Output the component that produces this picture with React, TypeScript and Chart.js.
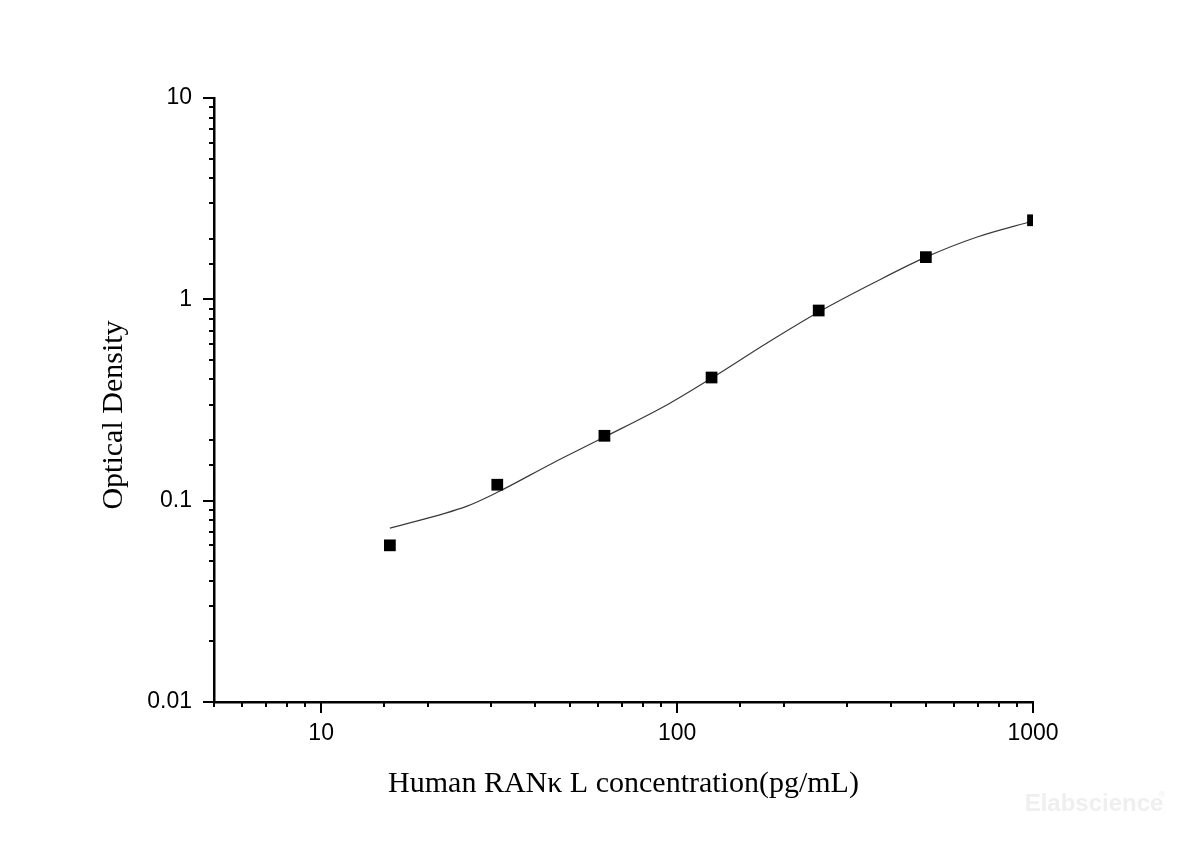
import React, { useEffect, useRef } from 'react';
import { Chart, registerables } from 'chart.js';

Chart.register(...registerables);

// standard points (pg/mL -> OD)
const concentrations = [15.6, 31.25, 62.5, 125, 250, 500, 1000];
const opticalDensity = [0.06, 0.12, 0.21, 0.409, 0.88, 1.62, 2.47];

// fitted curve
const fitConcentrations = [15.6, 25.7, 31.25, 44.8, 62.5, 95.5, 125, 179, 250, 356, 500, 697, 1000];
const fitDensity = [0.073, 0.094, 0.11, 0.154, 0.207, 0.305, 0.406, 0.607, 0.865, 1.205, 1.62, 2.04, 2.45];

const xLabelValues = [10, 100, 1000];
const yLabelValues = [0.01, 0.1, 1, 10];

const TICK_FONT = '"Liberation Sans", Arial, sans-serif';
const TITLE_FONT = '"Liberation Serif", "Times New Roman", serif';

const isLabelled = (v: number, list: number[]) =>
  list.some(l => Math.abs(Math.log10(v) - Math.log10(l)) < 1e-6);

const tickMarks = {
  id: 'tickMarks',
  afterDraw(chart: any) {
    const { ctx, chartArea, scales } = chart;
    ctx.save();
    ctx.strokeStyle = '#000';
    ctx.lineWidth = 2;
    scales.x.ticks.forEach((t: any) => {
      const px = Math.round(scales.x.getPixelForValue(t.value));
      const len = isLabelled(t.value, xLabelValues) ? 11 : 5;
      ctx.beginPath();
      ctx.moveTo(px, chartArea.bottom);
      ctx.lineTo(px, chartArea.bottom + len);
      ctx.stroke();
    });
    scales.y.ticks.forEach((t: any) => {
      const py = Math.round(scales.y.getPixelForValue(t.value));
      const len = isLabelled(t.value, yLabelValues) ? 11 : 5;
      ctx.beginPath();
      ctx.moveTo(chartArea.left - len, py);
      ctx.lineTo(chartArea.left, py);
      ctx.stroke();
    });

    // faint watermark
    ctx.fillStyle = '#efefef';
    ctx.font = 'bold 24px ' + TICK_FONT;
    ctx.textAlign = 'center';
    ctx.textBaseline = 'middle';
    ctx.fillText('Elabscience', chart.width - 106, chart.height - 38);
    ctx.font = '9px ' + TICK_FONT;
    ctx.fillText('®', chart.width - 38, chart.height - 46);
    ctx.restore();
  }
};

export default function App() {
  const chartRef = useRef<HTMLCanvasElement>(null);
  const chartInstance = useRef<Chart | null>(null);

  useEffect(() => {
    document.body.style.margin = '0';
    if (!chartRef.current) return;
    const ctx = chartRef.current.getContext('2d');
    if (!ctx) return;

    chartInstance.current = new Chart(ctx, {
      type: 'scatter',
      data: {
        datasets: [
          {
            label: 'Standard',
            data: concentrations.map((c, i) => ({ x: c, y: opticalDensity[i] })),
            pointStyle: 'rect',
            pointRadius: 8.3,
            backgroundColor: '#000',
            borderWidth: 0,
            showLine: false,
            clip: 0,
            order: 0
          },
          {
            label: 'Fit',
            data: fitConcentrations.map((c, i) => ({ x: c, y: fitDensity[i] })),
            showLine: true,
            pointRadius: 0,
            borderColor: '#3a3a3a',
            borderWidth: 1.2,
            cubicInterpolationMode: 'monotone',
            clip: 0,
            order: 1
          }
        ]
      },
      options: {
        animation: false,
        responsive: true,
        maintainAspectRatio: false,
        layout: { padding: { top: 98, right: 167, left: 0, bottom: 0 } },
        plugins: {
          legend: { display: false },
          tooltip: { enabled: false }
        },
        scales: {
          x: {
            type: 'logarithmic',
            min: 5,
            max: 1000,
            afterFit: (scale: any) => { scale.height = 140; },
            grid: { display: false, drawTicks: false },
            border: { display: true, color: '#000', width: 2.5 },
            ticks: {
              autoSkip: false,
              maxRotation: 0,
              padding: 18,
              color: '#000',
              font: { family: TICK_FONT, size: 23 },
              callback: (v: any) => (isLabelled(Number(v), xLabelValues) ? String(Number(v)) : '')
            },
            title: {
              display: true,
              text: 'Human RANκ L concentration(pg/mL)',
              color: '#000',
              font: { family: TITLE_FONT, size: 30 },
              padding: { top: 0, bottom: 40 }
            }
          },
          y: {
            type: 'logarithmic',
            min: 0.01,
            max: 10,
            afterFit: (scale: any) => { scale.width = 214; },
            grid: { display: false, drawTicks: false },
            border: { display: true, color: '#000', width: 2.5 },
            ticks: {
              autoSkip: false,
              padding: 22,
              color: '#000',
              font: { family: TICK_FONT, size: 23 },
              callback: (v: any) =>
                isLabelled(Number(v), yLabelValues) ? String(parseFloat(Number(v).toPrecision(2))) : ''
            },
            title: {
              display: true,
              text: 'Optical Density    ',
              color: '#000',
              font: { family: TITLE_FONT, size: 30 },
              padding: { top: 96, bottom: 0 }
            }
          }
        }
      },
      plugins: [tickMarks]
    });

    return () => {
      if (chartInstance.current) {
        chartInstance.current.destroy();
        chartInstance.current = null;
      }
    };
  }, []);

  return (
    <div style={{ width: '1200px', height: '842px', position: 'relative', background: '#fff' }}>
      <canvas ref={chartRef}></canvas>
    </div>
  );
}
